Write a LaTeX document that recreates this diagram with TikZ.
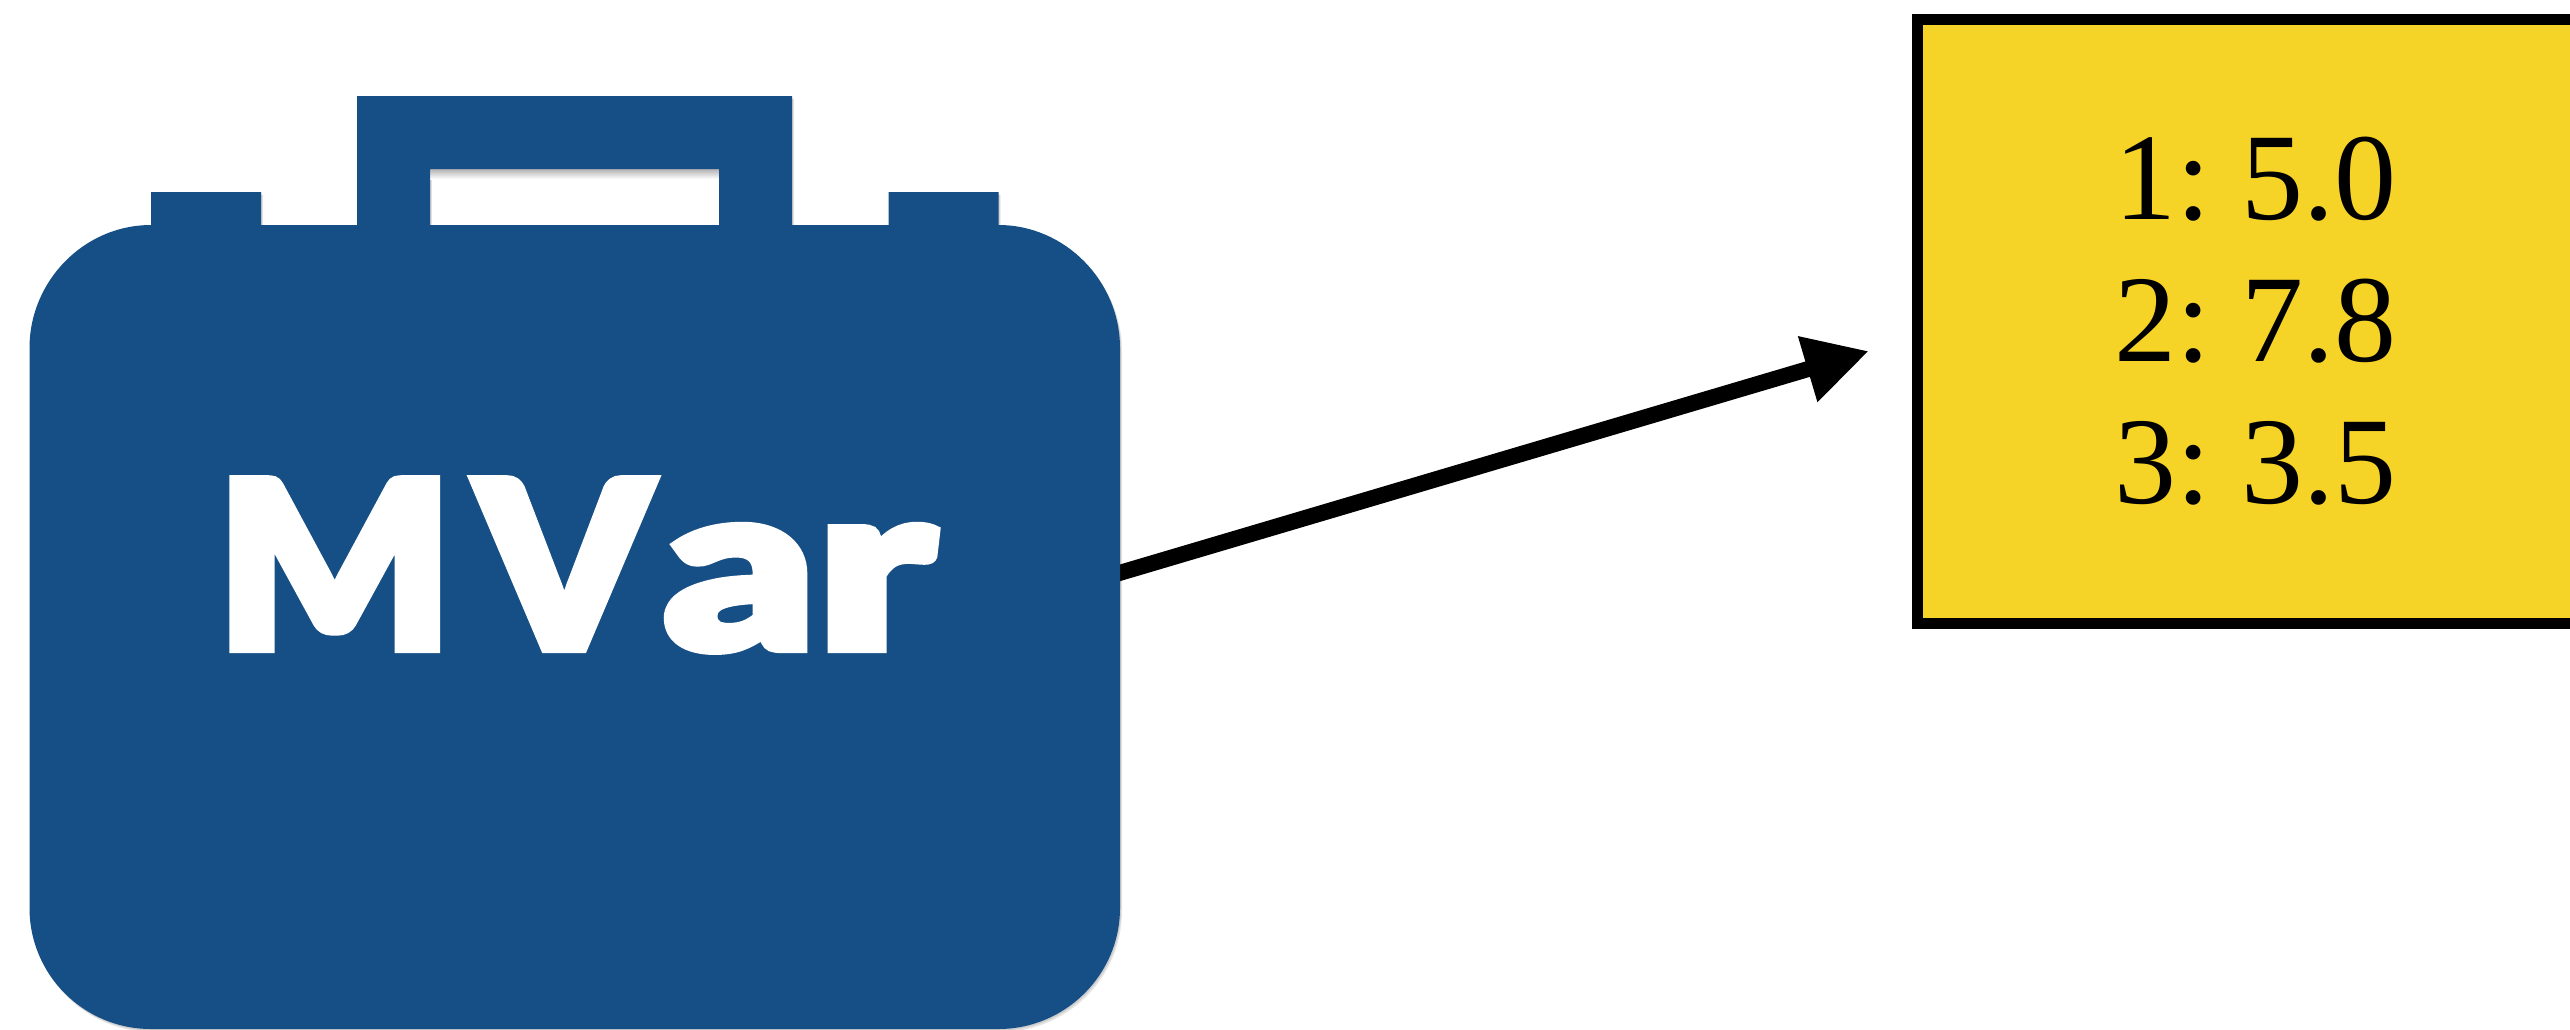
\documentclass[tikz,border=0pt]{standalone}
\usepackage{fontspec}
\usepackage{graphicx}
\usetikzlibrary{arrows.meta}
\setmainfont{Liberation Serif}
\newfontfamily\mvarfont{Lato}[UprightFont=* Black,RawFeature={embolden=3.5}]
\definecolor{caseblue}{HTML}{164F85}
\definecolor{boxyellow}{HTML}{F6D327}
\newcommand{\wl}[2]{\scalebox{#1}[1]{#2}}
\tikzset{
  x=1pt,y=-1pt,
  caseshape/.style={fill=caseblue,even odd rule},
  valuebox/.style={draw=black,line width=10.5pt,fill=boxyellow,rectangle,inner sep=0pt,outer sep=0pt,minimum width=760pt,minimum height=604pt,anchor=north west},
  valuetext/.style={font=\fontsize{124}{142}\selectfont\frenchspacing,align=left,inner sep=0pt,anchor=north west},
  link/.style={line width=16pt,-{Triangle[length=64pt,width=64pt]},black},
}
\newcommand{\casepath}{
  (151,225) -- (151,192) -- (261,192) -- (261,225) -- (357,225) -- (357,96) -- (792,96) -- (792,225)
  -- (888.5,225) -- (888.5,192) -- (998.5,192) -- (998.5,225)
  .. controls (1065,225) and (1120,281) .. (1120,348) -- (1120,908)
  .. controls (1120,975) and (1065,1029) .. (998.5,1029) -- (151,1029)
  .. controls (84,1029) and (29.5,975) .. (29.5,908) -- (29.5,348)
  .. controls (29.5,281) and (84,225) .. (151,225) -- cycle
  (430,169) -- (719,169) -- (719,225) -- (430,225) -- cycle}
\begin{document}
\begin{tikzpicture}
\useasboundingbox (0,0) rectangle (2570,1029);
\fill[white] (0,0) rectangle (2570,1029);
\coordinate (caseedge) at (1116,574);
\coordinate (arrowend) at (1869,351);
\draw[link] (caseedge) -- (arrowend);
% soft shadow
\fill[black,opacity=.10,even odd rule,xshift=2pt,yshift=-3pt] \casepath;
\fill[black,opacity=.10,even odd rule,xshift=1pt,yshift=-1.5pt] \casepath;
\fill[white] (432,171) rectangle (717,225);
\shade[top color=black!30,bottom color=white] (430,169) rectangle (719,179);
\path[caseshape] \casepath;
\node[font=\mvarfont\fontsize{233}{233}\selectfont,text=white,inner sep=0pt,anchor=base west] (label) at (216,649) {\wl{1.06}{M}\kern23pt\wl{1.06}{V}\kern12pt\wl{1.26}{a}\kern1pt\wl{1.33}{r}};
\node[valuebox] (values) at (1917.25,19.25) {};
\node[valuetext] (valuelines) at (2114,137) {1: 5.0\\2: 7.8\\3: 3.5};
\end{tikzpicture}
\end{document}
